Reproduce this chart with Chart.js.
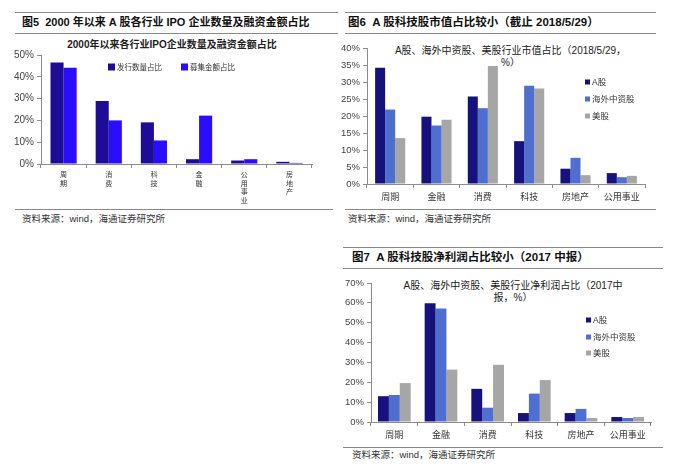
<!DOCTYPE html>
<html>
<head>
<meta charset="utf-8">
<script src="https://cdn.jsdelivr.net/npm/chart.js@4.4.1/dist/chart.umd.min.js"></script>
<style>
  html, body { margin:0; padding:0; background:#fff; }
  body { width:675px; height:471px; position:relative; overflow:hidden;
         font-family:"Liberation Sans","Noto Sans CJK SC",sans-serif; color:#222; }
  .rule { position:absolute; height:0; border-top:1.5px solid #8a8a8a; }
  .t { position:absolute; white-space:nowrap; line-height:1; }
  .h { font-weight:bold; font-size:11.5px; color:#111; }
  .foot { font-size:9.5px; color:#333; }
  .ct { text-align:center; font-size:10px; color:#222; line-height:12px; }
  canvas { position:absolute; }
</style>
</head>
<body>
<!-- Figure 5 -->
<div class="rule" style="left:15px;top:12px;width:323px"></div>
<div class="t h" style="left:22px;top:17px;font-size:11px">图5&nbsp;&nbsp;2000 年以来 A 股各行业 IPO 企业数量及融资金额占比</div>
<div class="rule" style="left:15px;top:33px;width:323px"></div>
<div class="t ct" style="left:42px;width:260px;top:39px;font-weight:bold">2000年以来各行业IPO企业数量及融资金额占比</div>
<div class="rule" style="left:15px;top:209px;width:318px"></div>
<div class="t foot" style="left:22px;top:214px">资料来源：wind，海通证券研究所</div>

<!-- Figure 6 -->
<div class="rule" style="left:345px;top:12px;width:311px"></div>
<div class="t h" style="left:348px;top:17px">图6&nbsp;&nbsp;A 股科技股市值占比较小（截止 2018/5/29）</div>
<div class="rule" style="left:345px;top:33px;width:311px"></div>
<div class="t ct" style="left:388px;width:245px;top:45px">A股、海外中资股、美股行业市值占比（2018/5/29，<br>%）</div>
<div class="rule" style="left:345px;top:209px;width:311px"></div>
<div class="t foot" style="left:348px;top:214px">资料来源：wind，海通证券研究所</div>

<!-- Figure 7 -->
<div class="rule" style="left:343px;top:247px;width:320px"></div>
<div class="t h" style="left:352px;top:252px">图7&nbsp;&nbsp;A 股科技股净利润占比较小（2017 中报）</div>
<div class="rule" style="left:343px;top:268px;width:320px"></div>
<div class="t ct" style="left:393px;width:240px;top:280px">A股、海外中资股、美股行业净利润占比（2017中<br>报，%）</div>
<div class="rule" style="left:343px;top:447px;width:320px"></div>
<div class="t foot" style="left:352px;top:450px">资料来源：wind，海通证券研究所</div>

<canvas id="c1" width="340" height="240" style="left:0;top:0"></canvas>
<canvas id="c2" width="337" height="240" style="left:338px;top:0"></canvas>
<canvas id="c3" width="337" height="231" style="left:338px;top:240px"></canvas>

<script>
// ---- data ----
const cats1 = ['周期','消费','科技','金融','公用事业','房地产'];
const ipoCount = [46.6, 28.9, 19.1, 2.2, 1.6, 1.0];
const ipoAmount = [44.2, 20.0, 10.8, 22.2, 2.2, 0.5];

const cats2 = ['周期','金融','消费','科技','房地产','公用事业'];
const mvA  = [34.2, 19.8, 25.7, 12.6, 4.5, 3.2];
const mvHK = [21.9, 17.2, 22.3, 28.9, 7.7, 2.0];
const mvUS = [13.5, 18.9, 34.7, 28.1, 2.6, 2.4];

const cats3 = ['周期','金融','消费','科技','房地产','公用事业'];
const npA  = [13.0, 59.8, 16.7, 4.5, 4.5, 2.5];
const npHK = [13.6, 57.1, 7.2, 14.3, 6.6, 2.0];
const npUS = [19.6, 26.4, 28.8, 21.1, 2.0, 2.5];

const seriesNames1 = ['发行数量占比','募集金额占比'];
const seriesNames2 = ['A股','海外中资股','美股'];

// ---- legend plugin ----
const posLegend = {
  id: 'posLegend',
  afterDraw(chart, args, o) {
    if (!o || !o.positions) return;
    const ctx = chart.ctx;
    ctx.save();
    chart.data.datasets.forEach((ds, i) => {
      const p = o.positions[i];
      ctx.fillStyle = ds.backgroundColor;
      ctx.fillRect(p.x, p.y - o.box / 2, o.box, o.box);
      ctx.fillStyle = o.color;
      ctx.font = o.font;
      ctx.textBaseline = 'middle';
      ctx.textAlign = 'left';
      ctx.fillText(ds.label, p.x + o.box + o.gap, p.y + 0.5);
    });
    ctx.restore();
  }
};
Chart.register(posLegend);

const FONT = '"Liberation Sans","Noto Sans CJK SC",sans-serif';

function makeChart(id, cats, names, values, colors, cfg) {
  return new Chart(document.getElementById(id), {
    type: 'bar',
    data: {
      labels: cats,
      datasets: values.map((v, i) => ({
        label: names[i], data: v, backgroundColor: colors[i],
        borderWidth: 0, categoryPercentage: cfg.catPct, barPercentage: 1
      }))
    },
    options: {
      responsive: false, animation: false, devicePixelRatio: 1,
      layout: { padding: cfg.padding },
      plugins: {
        legend: { display: false }, title: { display: false }, tooltip: { enabled: false },
        posLegend: cfg.legend
      },
      scales: {
        x: {
          grid: { display: true, drawOnChartArea: false, tickLength: 4, color: '#8c8c8c', offset: true },
          border: { display: true, color: '#8c8c8c', width: 1 },
          ticks: {
            color: '#333', padding: cfg.xPad, maxRotation: 0, autoSkip: false,
            font: { family: FONT, size: cfg.xFont, lineHeight: cfg.xLine },
            callback: cfg.xCallback || ((v, i) => cats[i])
          },
          afterFit: s => { s.height = cfg.xHeight; }
        },
        y: {
          min: 0, max: cfg.yMax,
          grid: { display: true, drawOnChartArea: false, tickLength: 4, color: '#8c8c8c' },
          border: { display: true, color: '#8c8c8c', width: 1 },
          ticks: {
            stepSize: cfg.yStep, color: '#444', padding: 3,
            font: { family: FONT, size: cfg.yFont },
            callback: v => v + '%'
          },
          afterFit: s => { s.width = cfg.yWidth; }
        }
      }
    }
  });
}

makeChart('c1', cats1, seriesNames1, [ipoCount, ipoAmount], ['#1f0c96', '#2a0cff'], {
  catPct: 0.58, padding: { left: 0, right: 28, top: 55, bottom: 36 },
  xHeight: 40, yWidth: 41, yMax: 50, yStep: 10, yFont: 10, xFont: 7, xLine: '8.5px', xPad: 3,
  xCallback: (v, i) => cats1[i].split(''),
  legend: { positions: [{ x: 108, y: 67 }, { x: 181, y: 67 }], box: 7, gap: 2, color: '#333',
            font: '7.5px ' + FONT }
});

const pal = ['#15127e', '#4f6fd0', '#a6a6a6'];
makeChart('c2', cats2, seriesNames2, [mvA, mvHK, mvUS], pal, {
  catPct: 0.65, padding: { left: 0, right: 30, top: 48, bottom: 36 },
  xHeight: 20, yWidth: 29, yMax: 40, yStep: 5, yFont: 9.5, xFont: 9, xLine: 1.0, xPad: 5,
  legend: { positions: [{ x: 247, y: 82 }, { x: 247, y: 99 }, { x: 247, y: 116 }], box: 5, gap: 2, color: '#333',
            font: '8.5px ' + FONT }
});

makeChart('c3', cats3, seriesNames2, [npA, npHK, npUS], pal, {
  catPct: 0.7, padding: { left: 0, right: 24, top: 43, bottom: 29 },
  xHeight: 20, yWidth: 33, yMax: 70, yStep: 10, yFont: 9.5, xFont: 9, xLine: 1.0, xPad: 5,
  legend: { positions: [{ x: 248, y: 80 }, { x: 248, y: 97 }, { x: 248, y: 113 }], box: 5, gap: 2, color: '#333',
            font: '8.5px ' + FONT }
});
</script>
</body>
</html>
